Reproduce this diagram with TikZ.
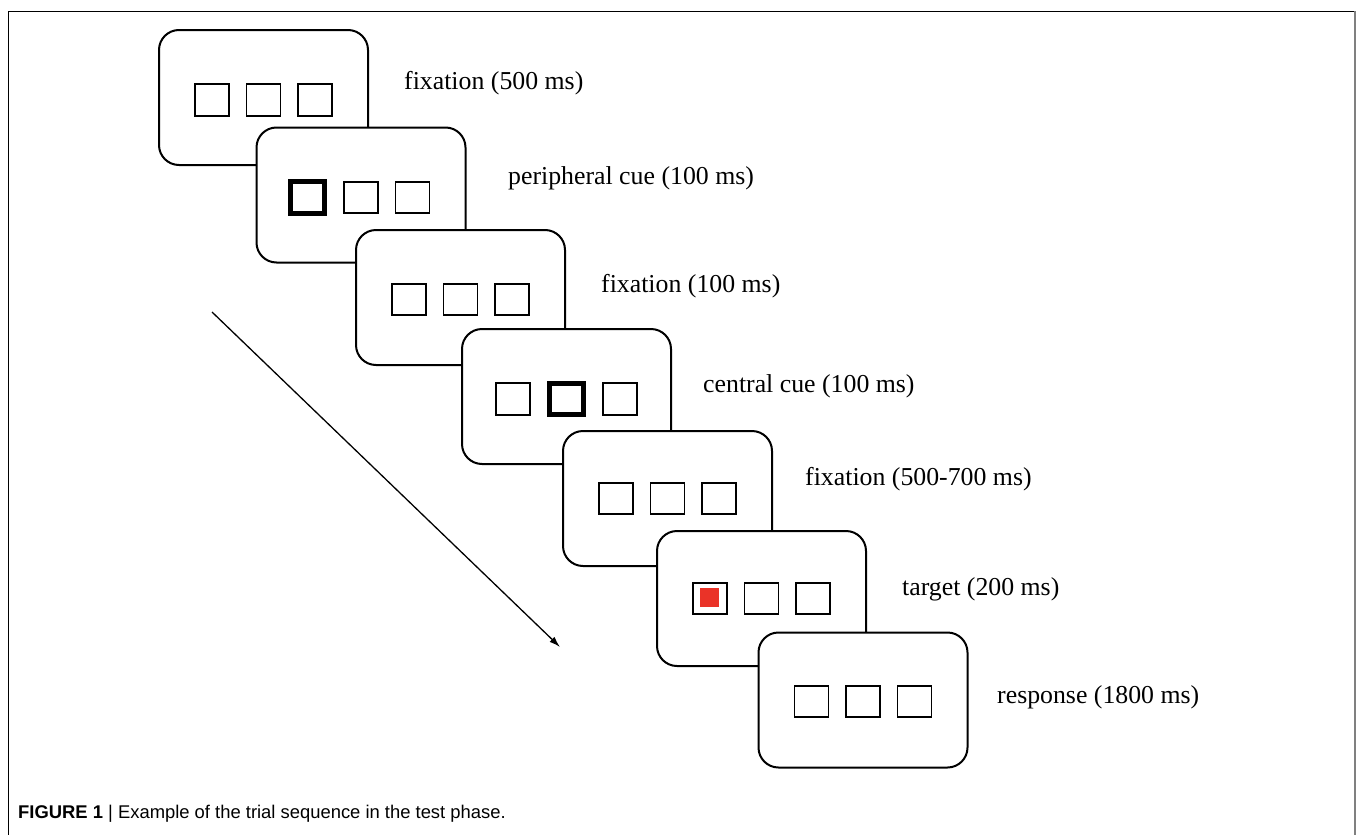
\documentclass[tikz,border=0pt]{standalone}
\usepackage{fontspec}
\setmainfont{Liberation Serif}
\newfontfamily\capfont{Liberation Sans}
\usetikzlibrary{positioning,arrows.meta}
\definecolor{targetred}{RGB}{234,51,40}
\begin{document}
\begin{tikzpicture}[x=1pt,y=-1pt,
  screenbox/.style={draw, line width=2pt, fill=white, rounded corners=20pt, minimum width=209pt, minimum height=135pt},
  sqbox/.style={draw, line width=1.6pt, minimum width=34pt, minimum height=31.5pt, inner sep=0pt},
  cuebox/.style={sqbox, line width=5pt},
  timelbl/.style={anchor=base west, inner sep=0pt, font=\fontsize{25.8}{30}\selectfont}]
\useasboundingbox (0,0) rectangle (1360,835);
% frame
\draw[line width=1pt] (8,835) -- (8,11) -- (1355,11);
\draw[gray, line width=2pt] (1355,11) -- (1355,835);
% screens
\node[screenbox] (s1) at (263.5,97.5) {};
\node[sqbox] (s1b) at ([yshift=-2.5pt]s1.center) {};
\node[sqbox, left=16pt of s1b] (s1a) {};
\node[sqbox, right=16pt of s1b] (s1c) {};
\node[timelbl] (l1) at (404,89) {fixation (500 ms)};

\node[screenbox] (s2) at (361,195) {};
\node[sqbox] (s2b) at ([yshift=-2.5pt]s2.center) {};
\node[cuebox, left=16pt of s2b] (s2a) {};
\node[sqbox, right=16pt of s2b] (s2c) {};
\node[timelbl] (l2) at (508,184) {peripheral cue (100 ms)};

\node[screenbox] (s3) at (460.5,297.5) {};
\node[sqbox] (s3b) at ([yshift=-2pt]s3.center) {};
\node[sqbox, left=16pt of s3b] (s3a) {};
\node[sqbox, right=16pt of s3b] (s3c) {};
\node[timelbl] (l3) at (601,292) {fixation (100 ms)};

\node[screenbox] (s4) at (566.5,396.5) {};
\node[cuebox] (s4b) at ([yshift=-2.5pt]s4.center) {};
\node[sqbox, left=16pt of s4b] (s4a) {};
\node[sqbox, right=16pt of s4b] (s4c) {};
\node[timelbl] (l4) at (703,392) {central cue (100 ms)};

\node[screenbox] (s5) at (667.5,498.5) {};
\node[sqbox] (s5b) at (s5.center) {};
\node[sqbox, left=16pt of s5b] (s5a) {};
\node[sqbox, right=16pt of s5b] (s5c) {};
\node[timelbl] (l5) at (805,485) {fixation (500-700 ms)};

\node[screenbox] (s6) at (761.5,598.5) {};
\node[sqbox] (s6b) at (s6.center) {};
\node[sqbox, left=16pt of s6b] (s6a) {};
\node[sqbox, right=16pt of s6b] (s6c) {};
\node[fill=targetred, minimum size=19pt, inner sep=0pt] (t6) at ([yshift=1pt]s6a.center) {};
\node[timelbl] (l6) at (902,595) {target (200 ms)};

\node[screenbox] (s7) at (863,700) {};
\node[sqbox] (s7b) at ([yshift=-1.5pt]s7.center) {};
\node[sqbox, left=16pt of s7b] (s7a) {};
\node[sqbox, right=16pt of s7b] (s7c) {};
\node[timelbl] (l7) at (997,703) {response (1800 ms)};
% time arrow
\coordinate (tstart) at (212,312);
\coordinate (tend) at (560,647);
\draw[line width=1.3pt, -{Latex[length=11pt,width=7pt]}] (tstart) -- (tend);
% caption
\node[anchor=base west, inner sep=0pt, font=\capfont\fontsize{18.4}{22}\selectfont] (caption) at (18,818)
  {\textbf{FIGURE 1} | Example of the trial sequence in the test phase.};
\end{tikzpicture}
\end{document}
